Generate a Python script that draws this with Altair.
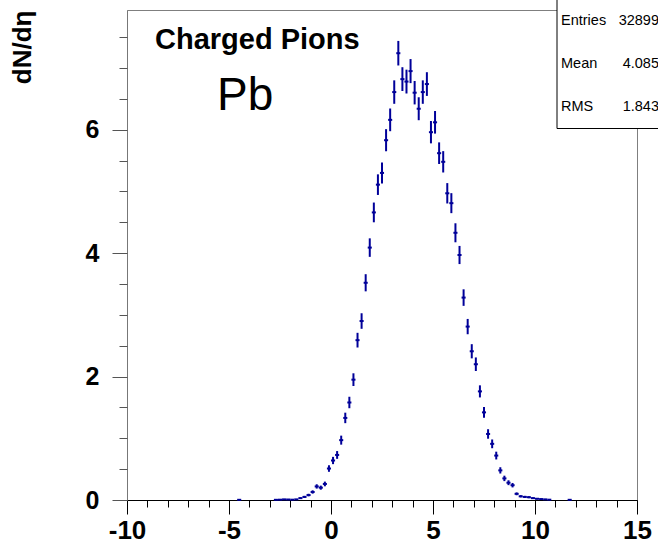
import altair as alt
import pandas as pd

# ---- data (bin centres, dN/deta, stat. errors) ----
eta = [-4.5, -2.7, -2.5, -2.3, -2.1, -1.9, -1.7, -1.5, -1.3, -1.1, -0.9, -0.7, -0.5, -0.3, -0.1,
       0.1, 0.3, 0.5, 0.7, 0.9, 1.1, 1.3, 1.5, 1.7, 1.9, 2.1, 2.3, 2.5, 2.7, 2.9, 3.1, 3.3, 3.5, 3.7, 3.9,
       4.1, 4.3, 4.5, 4.7, 4.9, 5.1, 5.3, 5.5, 5.7, 5.9, 6.1, 6.3, 6.5, 6.7, 6.9, 7.1, 7.3, 7.5, 7.7, 7.9,
       8.1, 8.3, 8.5, 8.7, 8.9, 9.1, 9.3, 9.5, 9.7, 9.9, 10.1, 10.3, 10.5, 10.7, 11.7]
dndeta = [0.003, 0.003, 0.005, 0.01, 0.008, 0.005, 0.01, 0.03, 0.05, 0.08, 0.13, 0.22, 0.20, 0.26, 0.51,
          0.64, 0.73, 0.97, 1.33, 1.58, 1.95, 2.59, 2.90, 3.52, 4.09, 4.66, 5.11, 5.30, 5.83, 6.16, 6.61, 7.24, 6.82, 6.78, 6.95,
          6.60, 6.34, 6.61, 6.74, 5.96, 6.12, 5.62, 5.48, 4.97, 4.81, 4.33, 3.97, 3.28, 2.81, 2.41, 2.20, 1.76, 1.42, 1.07, 0.91,
          0.72, 0.48, 0.35, 0.28, 0.24, 0.10, 0.06, 0.05, 0.045, 0.03, 0.02, 0.015, 0.01, 0.005, 0.003]
errors = [0.004, 0.004, 0.005, 0.007, 0.007, 0.005, 0.007, 0.013, 0.017, 0.021, 0.027, 0.035, 0.033, 0.038, 0.053,
          0.059, 0.063, 0.073, 0.085, 0.093, 0.103, 0.119, 0.126, 0.139, 0.150, 0.160, 0.167, 0.170, 0.179, 0.184, 0.190, 0.199, 0.193, 0.193, 0.195,
          0.190, 0.186, 0.190, 0.192, 0.181, 0.183, 0.175, 0.173, 0.165, 0.162, 0.154, 0.147, 0.134, 0.124, 0.115, 0.110, 0.098, 0.088, 0.077, 0.071,
          0.063, 0.051, 0.044, 0.039, 0.036, 0.023, 0.018, 0.017, 0.016, 0.013, 0.010, 0.009, 0.007, 0.005, 0.004]

x_major_ticks = [-10, -5, 0, 5, 10, 15]
x_minor_ticks = list(range(-10, 16))
y_major_ticks = [0, 2, 4, 6]
y_minor_ticks = [0, 0.5, 1, 1.5, 2, 2.5, 3, 3.5, 4, 4.5, 5, 5.5, 6, 6.5, 7, 7.5]

stat_names = ["Entries", "Mean", "RMS"]
stat_values = ["32899", "4.085", "1.843"]

FONT = "Liberation Sans"
BLUE = "#000099"

df = pd.DataFrame({"eta": eta, "dndeta": dndeta, "err": errors})
one = pd.DataFrame({"k": [0]})

xscale = alt.Scale(domain=[-10, 15], nice=False, zero=False)
yscale = alt.Scale(domain=[0, 7.94], nice=False, zero=False)

base = alt.Chart(df).transform_calculate(
    lo="datum.dndeta - datum.err",
    hi="datum.dndeta + datum.err",
    xl="datum.eta - 0.1",
    xr="datum.eta + 0.1",
)

x_major = alt.Axis(values=x_major_ticks, tickSize=14, tickColor="black", tickWidth=1,
                   domainColor="black", labelFont=FONT, labelFontSize=26, labelFontWeight="bold",
                   labelColor="black", labelPadding=3, grid=False, title=None, labelFlush=False,
                   labelOverlap=False, labelExpr="'' + datum.value", orient="bottom")
y_major = alt.Axis(values=y_major_ticks, tickSize=15, tickColor="#555555", tickWidth=1,
                   domainColor="#777777", labelFont=FONT, labelFontSize=25, labelFontWeight="bold",
                   labelColor="black", labelPadding=13, grid=False, labelOverlap=False,
                   labelExpr="'' + datum.value", orient="left",
                   title="dN/dη", titleFont=FONT, titleFontSize=26, titleFontWeight="bold",
                   titleColor="black", titleAngle=270, titleAlign="right", titleBaseline="alphabetic",
                   titleX=-97, titleY=0)

vbars = base.mark_rule(color=BLUE, strokeWidth=2).encode(
    x=alt.X("eta:Q", scale=xscale, axis=x_major),
    y=alt.Y("lo:Q", scale=yscale, axis=y_major),
    y2="hi:Q",
)
hbars = base.mark_rule(color=BLUE, strokeWidth=2).encode(
    x=alt.X("xl:Q", scale=xscale, axis=None),
    x2="xr:Q",
    y=alt.Y("dndeta:Q", scale=yscale, axis=None),
)
minor = base.mark_point(opacity=0).encode(
    x=alt.X("eta:Q", scale=xscale,
            axis=alt.Axis(values=x_minor_ticks, tickSize=7, tickColor="black", labels=False,
                          domain=False, orient="bottom", title=None, grid=False)),
    y=alt.Y("dndeta:Q", scale=yscale,
            axis=alt.Axis(values=y_minor_ticks, tickSize=8, tickColor="#555555", labels=False,
                          domain=False, orient="left", title=None, grid=False)),
)

box = alt.Chart(one).mark_rect(fill="white", stroke="black", strokeWidth=1).encode(
    x=alt.value(430), x2=alt.value(545), y=alt.value(-11), y2=alt.value(118.5)
)

layers = [vbars, hbars, minor, box]
row_y = [11, 54, 97]
for name, val, yy in zip(stat_names, stat_values, row_y):
    layers.append(alt.Chart(one).mark_text(font=FONT, fontSize=14.5, align="left", baseline="middle",
                                           color="black").encode(
        x=alt.value(434), y=alt.value(yy), text=alt.value(name)))
    layers.append(alt.Chart(one).mark_text(font=FONT, fontSize=14.5, align="right", baseline="middle",
                                           color="black").encode(
        x=alt.value(532), y=alt.value(yy), text=alt.value(val)))

layers.append(alt.Chart(one).mark_text(font=FONT, fontSize=29, fontWeight="bold", align="left",
                                       baseline="alphabetic", color="black").encode(
    x=alt.value(28), y=alt.value(39), text=alt.value("Charged Pions")))
layers.append(alt.Chart(one).mark_text(font=FONT, fontSize=46, align="left",
                                       baseline="alphabetic", color="black").encode(
    x=alt.value(90), y=alt.value(100), text=alt.value("Pb")))

chart = alt.layer(*layers).resolve_axis(x="independent", y="independent").properties(
    width=510, height=490,
    autosize=alt.AutoSizeParams(type="none"),
    padding={"left": 127, "top": 10, "right": 21, "bottom": 47},
    background="white",
).configure_view(stroke="#7f7f7f", strokeWidth=1)

chart.save("out.html", embed_options={"renderer": "svg", "actions": False})
